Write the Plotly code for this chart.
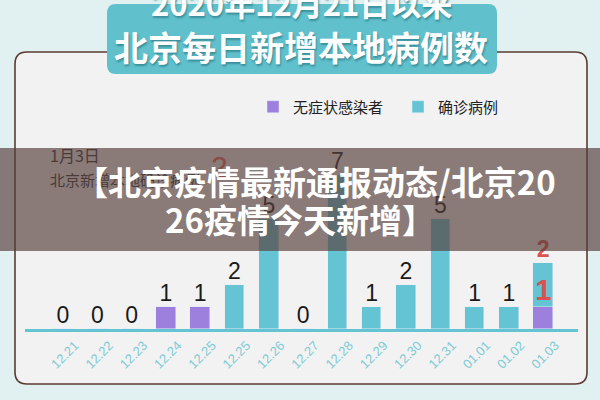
import plotly.graph_objects as go

# ---------------- data ----------------
dates = ["12.21", "12.22", "12.23", "12.24", "12.25", "12.25", "12.26", "12.27",
         "12.28", "12.29", "12.30", "12.31", "01.01", "01.02", "01.03"]
asymptomatic = [0, 0, 0, 1, 1, 0, 0, 0, 0, 0, 0, 0, 0, 0, 1]
confirmed = [0, 0, 0, 0, 0, 2, 5, 0, 7, 1, 2, 5, 1, 1, 2]
series_names = ["无症状感染者", "确诊病例"]
title_lines = ["2020年12月21日以来", "北京每日新增本地病例数"]
note_lines = ["1月3日", "北京新增本地确诊病例"]
banner_lines = ["【北京疫情最新通报动态/北京20", "26疫情今天新增】"]

totals = [a + c for a, c in zip(asymptomatic, confirmed)]
xs = list(range(len(dates)))

W, H = 600, 400
PURPLE = "#9d80de"
CYAN = "#64c4d3"
RED = "#d9534f"
CJK = "Noto Sans CJK SC"
LAT = "Liberation Sans"


def px(x):
    return x / W


def py(y):
    return 1 - y / H


def rrect(x0, y0, x1, y1, r):
    # rounded rectangle in pixel coords -> paper path
    pts = [
        f"M{px(x0 + r)},{py(y0)}",
        f"L{px(x1 - r)},{py(y0)}",
        f"Q{px(x1)},{py(y0)} {px(x1)},{py(y0 + r)}",
        f"L{px(x1)},{py(y1 - r)}",
        f"Q{px(x1)},{py(y1)} {px(x1 - r)},{py(y1)}",
        f"L{px(x0 + r)},{py(y1)}",
        f"Q{px(x0)},{py(y1)} {px(x0)},{py(y1 - r)}",
        f"L{px(x0)},{py(y0 + r)}",
        f"Q{px(x0)},{py(y0)} {px(x0 + r)},{py(y0)}",
        "Z",
    ]
    return " ".join(pts)


fig = go.Figure()
fig.add_trace(go.Bar(x=xs, y=asymptomatic, name=series_names[0], marker_color=PURPLE,
                     width=0.57, hoverinfo="skip"))
fig.add_trace(go.Bar(x=xs, y=confirmed, name=series_names[1], marker_color=CYAN,
                     width=0.57, hoverinfo="skip"))

# black value labels (all but last)
fig.add_trace(go.Scatter(x=xs[:-1], y=totals[:-1], mode="text",
                         text=[str(t) for t in totals[:-1]], textposition="top center",
                         textfont=dict(family=LAT, size=23, color="#1a1a1a"),
                         showlegend=False, hoverinfo="skip"))
# red labels on the last day: confirmed on top of the bar, asymptomatic on top of its segment
fig.add_trace(go.Scatter(x=[xs[-1], xs[-1]], y=[totals[-1], asymptomatic[-1]],
                         mode="text", text=[str(confirmed[-1]), str(asymptomatic[-1])],
                         textposition=["top center", "top center"],
                         textfont=dict(family=LAT, size=[23, 29], color=RED, weight="bold"),
                         showlegend=False, hoverinfo="skip"))

x_left, x_right = 25, 578
step, x0c = 34.3, 63
base_y, unit = 329, 22

shapes = [
    dict(type="path", path=rrect(15, 52, 587, 384, 12), xref="paper", yref="paper",
         fillcolor="#f2f2f2", line=dict(color="#5b3b32", width=1.6), layer="below"),
    dict(type="path", path=rrect(107, 4, 497, 74, 9), xref="paper", yref="paper",
         fillcolor="#60c0cc", line=dict(width=0), layer="below"),
    dict(type="rect", x0=0, x1=1, y0=py(251), y1=py(148), xref="paper", yref="paper",
         fillcolor="rgba(86,62,60,0.67)", line=dict(width=0), layer="above"),
]

annotations = [
    dict(text=title_lines[0], x=px(301), y=py(3), xref="paper", yref="paper",
         showarrow=False, xanchor="center", yanchor="middle",
         font=dict(family=CJK, size=31, color="white", weight="bold",
                   shadow="1px 2px 2px #3a8f9a")),
    dict(text=title_lines[1], x=px(301), y=py(47), xref="paper", yref="paper",
         showarrow=False, xanchor="center", yanchor="middle",
         font=dict(family=CJK, size=34, color="white", weight="bold",
                   shadow="1px 2px 2px #3a8f9a")),
    dict(text=note_lines[0], x=px(48), y=py(155), xref="paper", yref="paper",
         showarrow=False, xanchor="left", yanchor="middle",
         font=dict(family=CJK, size=16, color="#4a3a38")),
    dict(text=note_lines[1], x=px(48), y=py(179), xref="paper", yref="paper",
         showarrow=False, xanchor="left", yanchor="middle",
         font=dict(family=CJK, size=15, color="#4a3a38")),
    dict(text="2", x=px(220), y=py(166), xref="paper", yref="paper",
         showarrow=False, xanchor="center", yanchor="middle",
         font=dict(family=LAT, size=30, color="#8a4a45")),
    dict(text=banner_lines[0], x=px(316), y=py(181), xref="paper", yref="paper",
         showarrow=False, xanchor="center", yanchor="middle",
         font=dict(family=CJK, size=33, color="white", weight="bold")),
    dict(text=banner_lines[1], x=px(300), y=py(219), xref="paper", yref="paper",
         showarrow=False, xanchor="center", yanchor="middle",
         font=dict(family=CJK, size=33, color="white", weight="bold")),
]

fig.update_layout(
    width=W, height=H,
    margin=dict(l=0, r=0, t=0, b=0),
    paper_bgcolor="#e1f0f1",
    plot_bgcolor="rgba(0,0,0,0)",
    barmode="stack",
    bargap=0,
    shapes=shapes,
    annotations=annotations,
    showlegend=True,
    legend=dict(orientation="h", x=px(253), y=py(107), xanchor="left", yanchor="middle",
                font=dict(family=CJK, size=15, color="#222222"),
                bgcolor="rgba(0,0,0,0)", entrywidth=100, traceorder="normal"),
    xaxis=dict(
        domain=[px(x_left), px(x_right)],
        range=[(x_left - x0c) / step, (x_right - x0c) / step],
        tickmode="array", tickvals=xs, ticktext=dates, tickangle=-45,
        tickfont=dict(family=LAT, size=13, color="#7fcbd6"),
        ticklabelshift=12, ticklabelstandoff=1,
        showline=True, linecolor=CYAN, linewidth=2.5, ticks="",
        showgrid=False, zeroline=False, fixedrange=True, automargin=False,
    ),
    yaxis=dict(
        domain=[1 - base_y / H, 1],
        range=[0, base_y / unit],
        visible=False, showgrid=False, zeroline=False, fixedrange=True,
    ),
)

fig.write_html("out.html", config={"displayModeBar": False},
               post_script="document.body.style.margin='0';document.body.style.overflow='hidden';")
